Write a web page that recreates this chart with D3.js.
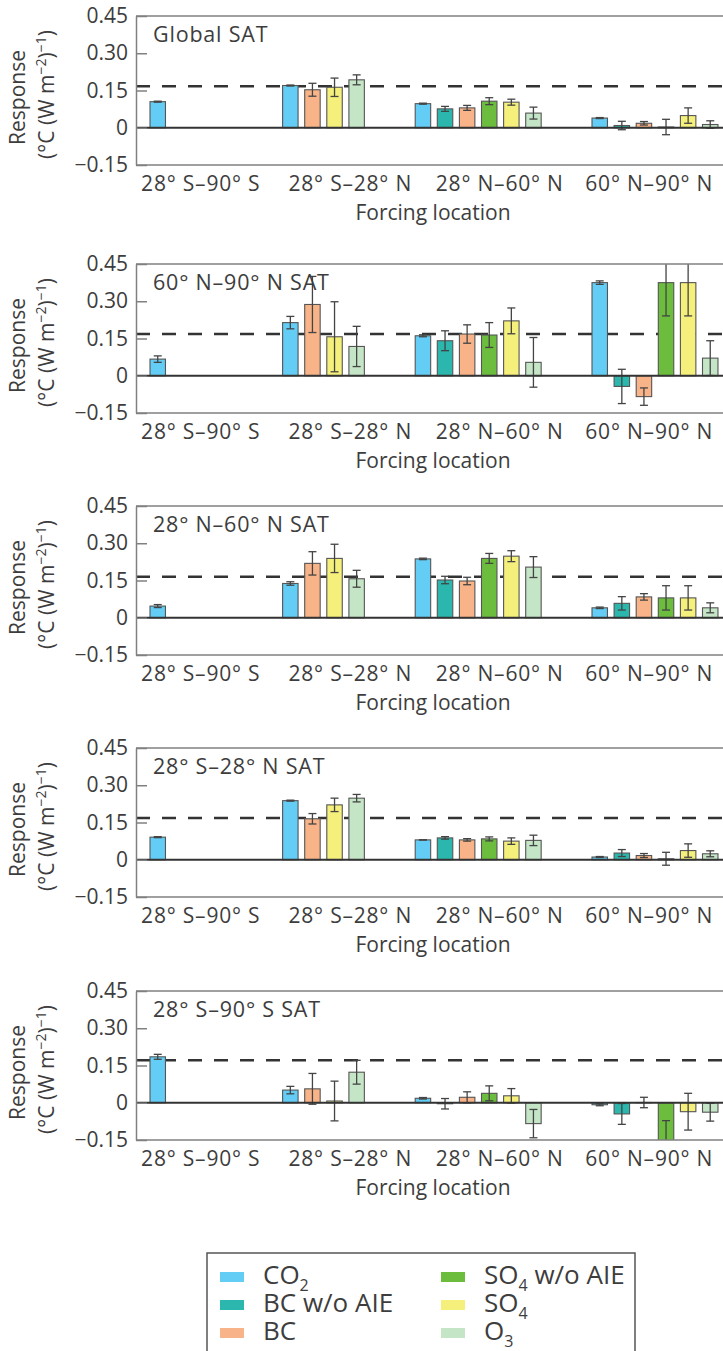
<!DOCTYPE html>
<html>
<head>
<meta charset="utf-8">
<script src="https://cdnjs.cloudflare.com/ajax/libs/d3/7.8.5/d3.min.js"></script>
<style>
  body { margin: 0; background: #fff; }
  svg { display: block; font-family: 'Open Sans', sans-serif; }
</style>
</head>
<body>
<div id="chart"></div>
<script>
const species = ['CO2', 'BC w/o AIE', 'BC', 'SO4 w/o AIE', 'SO4', 'O3'];
const regions = ['28° S–90° S', '28° S–28° N', '28° N–60° N', '60° N–90° N'];
const panelTitles = ['Global SAT', '60° N–90° N SAT', '28° N–60° N SAT', '28° S–28° N SAT', '28° S–90° S SAT'];
const yTicks = [-0.15, 0, 0.15, 0.30, 0.45];
const dashedValues = [0.167, 0.168, 0.165, 0.168, 0.171];

// one row per forcing region, one column per species (null = not run)
const globalValues = [
  [0.105, null, null, null, null, null],
  [0.170, null, 0.153, null, 0.163, 0.193],
  [0.097, 0.076, 0.080, 0.107, 0.103, 0.059],
  [0.039, 0.009, 0.018, 0.003, 0.049, 0.013]
];
const globalErrors = [
  [0.002, null, null, null, null, null],
  [0.002, null, 0.026, null, 0.037, 0.020],
  [0.002, 0.010, 0.010, 0.014, 0.012, 0.024],
  [0.002, 0.017, 0.007, 0.031, 0.031, 0.015]
];
const arcticValues = [
  [0.067, null, null, null, null, null],
  [0.214, null, 0.287, null, 0.157, 0.118],
  [0.161, 0.141, 0.168, 0.164, 0.221, 0.054],
  [0.375, -0.043, -0.084, 0.375, 0.375, 0.071]
];
const arcticErrors = [
  [0.013, null, null, null, null, null],
  [0.025, null, 0.113, null, 0.141, 0.081],
  [0.004, 0.040, 0.037, 0.050, 0.052, 0.100],
  [0.007, 0.069, 0.035, 0.134, 0.134, 0.070]
];
const midLatValues = [
  [0.047, null, null, null, null, null],
  [0.138, null, 0.219, null, 0.239, 0.157],
  [0.237, 0.152, 0.148, 0.239, 0.248, 0.204],
  [0.040, 0.058, 0.084, 0.080, 0.080, 0.040]
];
const midLatErrors = [
  [0.006, null, null, null, null, null],
  [0.007, null, 0.047, null, 0.057, 0.034],
  [0.003, 0.015, 0.015, 0.020, 0.022, 0.042],
  [0.003, 0.027, 0.013, 0.049, 0.049, 0.020]
];
const tropicsValues = [
  [0.091, null, null, null, null, null],
  [0.238, null, 0.165, null, 0.221, 0.248],
  [0.080, 0.088, 0.080, 0.084, 0.075, 0.078],
  [0.011, 0.027, 0.017, 0.004, 0.037, 0.024]
];
const tropicsErrors = [
  [0.002, null, null, null, null, null],
  [0.002, null, 0.021, null, 0.027, 0.015],
  [0.000, 0.005, 0.005, 0.008, 0.013, 0.021],
  [0.002, 0.014, 0.008, 0.026, 0.027, 0.012]
];
const southValues = [
  [0.185, null, null, null, null, null],
  [0.051, null, 0.056, null, 0.007, 0.123],
  [0.018, -0.004, 0.022, 0.038, 0.028, -0.084],
  [-0.008, -0.045, 0.001, -0.155, -0.036, -0.038]
];
const southErrors = [
  [0.010, null, null, null, null, null],
  [0.015, null, 0.062, null, 0.080, 0.048],
  [0.003, 0.021, 0.022, 0.030, 0.029, 0.057],
  [0.004, 0.042, 0.021, 0.083, 0.074, 0.036]
];

const panelValues = [globalValues, arcticValues, midLatValues, tropicsValues, southValues];
const panelErrors = [globalErrors, arcticErrors, midLatErrors, tropicsErrors, southErrors];

// legend labels split as [text, subscript, text]
const legendLabels = [['CO', '2'], ['BC w/o AIE'], ['BC'], ['SO', '4', ' w/o AIE'], ['SO', '4'], ['O', '3']];

const colors = ['#63cdf5', '#2bb7ae', '#f8b488', '#6cbd3e', '#f5ef7c', '#c4e5c6'];
const textColor = '#3d3d3d';

const width = 723;
const height = 1351;
const panelTops = [16, 264, 506, 748, 991];
const panelHeight = 149;
const frameLeft = 136;
const frameRight = 730;
const groupStart = [0, 6, 12, 20];

const svg = d3.select('#chart')
  .append('svg')
  .attr('width', width)
  .attr('height', height);

const x = d3.scaleLinear().domain([0, 26]).range([150, 150 + 26 * 22.1]);
const xLabel = d3.scaleBand().domain(regions).range([126, 724]);
const barWidth = x(0.7) - x(0);

panelTitles.forEach((title, i) => {
  const top = panelTops[i];
  const y = d3.scaleLinear().domain([-0.15, 0.45]).range([top + panelHeight, top]);
  const g = svg.append('g');

  const bars = [];
  regions.forEach((region, r) => {
    let k = 0;
    species.forEach((sp, s) => {
      const v = panelValues[i][r][s];
      if (v === null) return;
      bars.push({ slot: groupStart[r] + k, s: s, v: v, e: panelErrors[i][r][s] });
      k++;
    });
  });

  const clipId = 'clip' + i;
  svg.append('clipPath')
    .attr('id', clipId)
    .append('rect')
    .attr('x', frameLeft)
    .attr('y', top)
    .attr('width', frameRight - frameLeft)
    .attr('height', panelHeight);

  // dashed reference line sits behind the bars
  g.append('line')
    .attr('x1', frameLeft)
    .attr('x2', frameRight)
    .attr('y1', y(dashedValues[i]))
    .attr('y2', y(dashedValues[i]))
    .style('stroke', '#333')
    .style('stroke-width', 2.5)
    .style('stroke-dasharray', '14 12');

  const plot = g.append('g').attr('clip-path', `url(#${clipId})`);

  plot.selectAll('rect.bar')
    .data(bars)
    .enter()
    .append('rect')
    .attr('class', 'bar')
    .attr('x', (d) => x(d.slot))
    .attr('y', (d) => y(Math.max(d.v, 0)))
    .attr('width', barWidth)
    .attr('height', (d) => Math.abs(y(d.v) - y(0)))
    .style('fill', (d) => colors[d.s])
    .style('stroke', '#555')
    .style('stroke-width', 1.1);

  const err = plot.selectAll('g.err')
    .data(bars)
    .enter()
    .append('g')
    .attr('class', 'err')
    .style('stroke', '#444')
    .style('stroke-width', 1.3);

  err.append('line')
    .attr('x1', (d) => x(d.slot) + barWidth / 2)
    .attr('x2', (d) => x(d.slot) + barWidth / 2)
    .attr('y1', (d) => y(d.v - d.e))
    .attr('y2', (d) => y(d.v + d.e));

  [1, -1].forEach((sign) => {
    err.append('line')
      .attr('x1', (d) => x(d.slot) + barWidth / 2 - 4)
      .attr('x2', (d) => x(d.slot) + barWidth / 2 + 4)
      .attr('y1', (d) => y(d.v + sign * d.e))
      .attr('y2', (d) => y(d.v + sign * d.e));
  });

  // zero line
  g.append('line')
    .attr('x1', frameLeft)
    .attr('x2', frameRight)
    .attr('y1', y(0))
    .attr('y2', y(0))
    .style('stroke', '#333')
    .style('stroke-width', 2);

  // frame top and bottom
  [0.45, -0.15].forEach((v) => {
    g.append('line')
      .attr('x1', frameLeft)
      .attr('x2', frameRight)
      .attr('y1', y(v))
      .attr('y2', y(v))
      .style('stroke', '#808080')
      .style('stroke-width', 1.5);
  });

  const yAxis = g.append('g')
    .attr('transform', `translate(${frameLeft},0)`)
    .call(d3.axisLeft(y)
      .tickValues(yTicks)
      .tickSizeInner(-11)
      .tickSizeOuter(0)
      .tickPadding(8)
      .tickFormat((d) => (d === 0 ? '0' : d3.format('.2f')(d))));
  yAxis.select('.domain').style('stroke', '#808080').style('stroke-width', 1.5);
  yAxis.selectAll('.tick line').style('stroke', '#808080').style('stroke-width', 1.5);
  yAxis.selectAll('.tick text')
    .style('font-size', '21px')
    .style('fill', textColor)
    .style('font-family', "'Open Sans', sans-serif");

  g.append('text')
    .attr('x', 153)
    .attr('y', top + 26)
    .text(title)
    .style('font-size', '21.5px')
    .style('letter-spacing', '0.8px')
    .style('fill', textColor);

  g.selectAll('text.region')
    .data(regions)
    .enter()
    .append('text')
    .attr('class', 'region')
    .attr('x', (d) => xLabel(d) + xLabel.bandwidth() / 2)
    .attr('y', top + panelHeight + 26)
    .attr('text-anchor', 'middle')
    .text((d) => d)
    .style('font-size', '21px')
    .style('letter-spacing', '0.8px')
    .style('fill', textColor);

  g.append('text')
    .attr('x', 433)
    .attr('y', top + panelHeight + 55)
    .attr('text-anchor', 'middle')
    .text('Forcing location')
    .style('font-size', '21px')
    .style('fill', textColor);

  const cy = top + panelHeight / 2 + 7;
  g.append('text')
    .attr('transform', `translate(25,${cy}) rotate(-90)`)
    .attr('text-anchor', 'middle')
    .text('Response')
    .style('font-size', '21px')
    .style('fill', textColor);

  const unit = g.append('text')
    .attr('transform', `translate(54,${cy - 3}) rotate(-90)`)
    .attr('text-anchor', 'middle')
    .style('font-size', '21px')
    .style('fill', textColor);
  unit.append('tspan').text('(°C (W m');
  unit.append('tspan').attr('dy', -8).style('font-size', '14px').text('−2');
  unit.append('tspan').attr('dy', 8).text(')');
  unit.append('tspan').attr('dy', -8).style('font-size', '14px').text('−1');
  unit.append('tspan').attr('dy', 8).text(')');
});

// legend
const legend = svg.append('g');
legend.append('rect')
  .attr('x', 207)
  .attr('y', 1253)
  .attr('width', 428)
  .attr('height', 120)
  .style('fill', 'none')
  .style('stroke', '#555')
  .style('stroke-width', 1.5);

const legendCol = d3.scaleOrdinal().domain([0, 1]).range([220, 441]);
const legendRow = d3.scaleLinear().domain([0, 1]).range([1277, 1305]);

const item = legend.selectAll('g.item')
  .data(species)
  .enter()
  .append('g')
  .attr('class', 'item')
  .attr('transform', (d, i) => `translate(${legendCol(Math.floor(i / 3))},${legendRow(i % 3)})`);

item.append('rect')
  .attr('x', 0)
  .attr('y', -5)
  .attr('width', 24)
  .attr('height', 10)
  .style('fill', (d, i) => colors[i]);

item.append('text')
  .attr('x', 43)
  .attr('y', 7)
  .style('font-size', '26px')
  .style('fill', textColor)
  .each(function (d, i) {
    const parts = legendLabels[i];
    const t = d3.select(this);
    t.append('tspan').text(parts[0]);
    if (parts[1]) {
      t.append('tspan').attr('dy', 7).style('font-size', '16px').text(parts[1]);
    }
    if (parts[2]) {
      t.append('tspan').attr('dy', -7).text(parts[2]);
    }
  });
</script>
</body>
</html>
